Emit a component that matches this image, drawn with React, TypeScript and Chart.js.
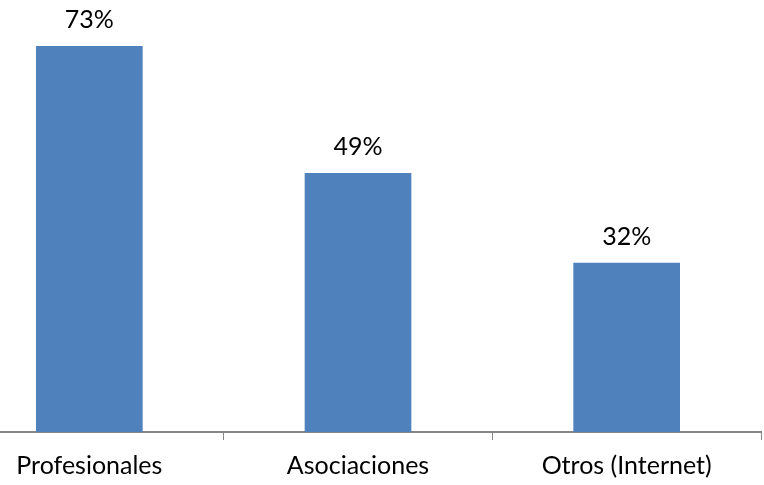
import React, { useEffect, useRef } from "react";
import { Chart, registerables } from "chart.js";

Chart.register(...registerables);

const categories = ["Profesionales", "Asociaciones", "Otros (Internet)"];
const values = [73, 49, 32];
const valueLabels = ["73%", "49%", "32%"];

const FONT = "Lato, 'Open Sans', sans-serif";

const dataLabelPlugin = {
  id: "dataLabels",
  afterDatasetsDraw(chart: any) {
    const ctx = chart.ctx;
    const meta = chart.getDatasetMeta(0);
    ctx.save();
    ctx.font = `25px ${FONT}`;
    ctx.fillStyle = "#000000";
    ctx.textAlign = "center";
    ctx.textBaseline = "alphabetic";
    meta.data.forEach((bar: any, i: number) => {
      ctx.fillText(valueLabels[i], bar.x, bar.y - 18);
    });
    ctx.restore();
  },
};

export default function App() {
  const ref = useRef<HTMLCanvasElement | null>(null);
  useEffect(() => {
    if (!ref.current) return;
    const chart = new Chart(ref.current, {
      type: "bar",
      data: {
        labels: categories,
        datasets: [
          {
            data: values,
            backgroundColor: "#4F81BD",
            borderWidth: 0,
            categoryPercentage: 1,
            barPercentage: 0.397,
          },
        ],
      },
      options: {
        animation: false,
        responsive: true,
        maintainAspectRatio: false,
        layout: { padding: { top: 9, right: 2, left: 0, bottom: 0 } },
        plugins: {
          legend: { display: false },
          tooltip: { enabled: false },
        },
        scales: {
          y: {
            display: false,
            min: 0,
            max: 80,
          },
          x: {
            offset: true,
            afterFit(scale: any) {
              scale.height = 53;
            },
            grid: {
              offset: true,
              drawOnChartArea: false,
              drawTicks: true,
              tickLength: 8,
              color: "#868686",
              lineWidth: 1,
            },
            border: { display: true, color: "#868686", width: 2 },
            ticks: {
              color: "#000000",
              font: { family: FONT, size: 25 },
              padding: 11,
              maxRotation: 0,
              autoSkip: false,
            },
          },
        },
      },
      plugins: [dataLabelPlugin],
    });
    return () => chart.destroy();
  }, []);
  return (
    <div
      style={{
        position: "absolute",
        left: -45,
        top: 0,
        width: 808,
        height: 485,
        background: "#ffffff",
      }}
    >
      <canvas ref={ref} />
    </div>
  );
}
